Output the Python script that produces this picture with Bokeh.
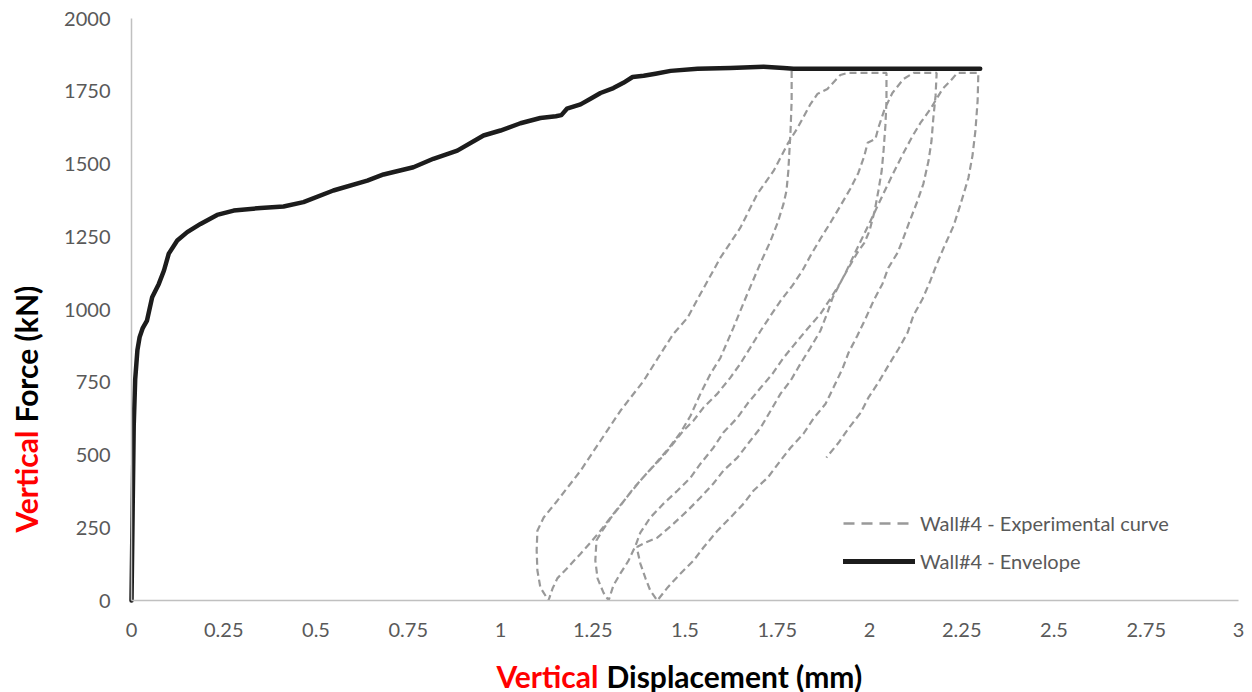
import math
from bokeh.plotting import figure
from bokeh.models import Range1d, FixedTicker, Legend, LegendItem
from bokeh.core.properties import value
from bokeh.embed import file_html
from bokeh.resources import INLINE

# ---------------- data ----------------
x_ticks = [0, 0.25, 0.5, 0.75, 1, 1.25, 1.5, 1.75, 2, 2.25, 2.5, 2.75, 3]
x_tick_labels = ["0", "0.25", "0.5", "0.75", "1", "1.25", "1.5", "1.75", "2", "2.25", "2.5", "2.75", "3"]
y_ticks = [0, 250, 500, 750, 1000, 1250, 1500, 1750, 2000]
y_tick_labels = ["0", "250", "500", "750", "1000", "1250", "1500", "1750", "2000"]

env_x = [0, 0.003, 0.006, 0.010, 0.016, 0.022, 0.030, 0.042, 0.056, 0.074, 0.088, 0.101,
         0.124, 0.151, 0.187, 0.232, 0.277, 0.35, 0.412, 0.466, 0.547, 0.639, 0.683, 0.764,
         0.818, 0.883, 0.954, 1.0, 1.054, 1.108, 1.15, 1.165, 1.18, 1.217, 1.244, 1.271,
         1.306, 1.333, 1.358, 1.388, 1.42, 1.461, 1.534, 1.623, 1.713, 1.767, 1.794, 1.867, 2.30]
env_y = [0, 300, 600, 760, 860, 905, 935, 962, 1042, 1088, 1134, 1192,
         1237, 1266, 1294, 1325, 1340, 1349, 1354, 1369, 1409, 1443, 1464, 1489,
         1518, 1546, 1598, 1615, 1640, 1658, 1664, 1668, 1690, 1705, 1724, 1744,
         1761, 1779, 1799, 1803, 1810, 1820, 1827, 1830, 1834, 1830, 1827, 1827, 1827]

exp_x = [
    # unloading 1
    1.789, 1.789, 1.786, 1.783, 1.780, 1.775, 1.767, 1.751, 1.732, 1.705, 1.669, 1.631,
    1.596, 1.569, 1.542, 1.515, 1.488, 1.455, 1.420, 1.379, 1.339, 1.298, 1.271, 1.244,
    1.217, 1.182, 1.154, 1.141, 1.130,
    # reloading 1
    1.108, 1.100, 1.098, 1.100, 1.117, 1.154, 1.217, 1.271, 1.325, 1.388, 1.434, 1.469,
    1.507, 1.542, 1.596, 1.650, 1.696, 1.740, 1.778, 1.805, 1.840, 1.859, 1.886, 1.921,
    1.940, 2.046,
    # unloading 2
    2.046, 2.043, 2.038, 2.033, 2.024, 2.014, 2.000, 1.986, 1.967, 1.943, 1.921, 1.894,
    1.867, 1.832, 1.794, 1.767, 1.737, 1.705, 1.669, 1.642, 1.604, 1.577, 1.542, 1.515,
    1.480, 1.442, 1.406, 1.379, 1.366, 1.347, 1.325, 1.306, 1.293,
    # reloading 2
    1.279, 1.263, 1.257, 1.260, 1.276, 1.298, 1.325, 1.360, 1.398, 1.442, 1.496, 1.523,
    1.550, 1.588, 1.623, 1.650, 1.677, 1.705, 1.732, 1.759, 1.791, 1.818, 1.840, 1.867,
    1.894, 1.921, 1.948, 1.970, 1.986, 1.995, 2.016, 2.024, 2.041, 2.062, 2.092, 2.119,
    2.182,
    # unloading 3
    2.179, 2.173, 2.168, 2.160, 2.146, 2.130, 2.106, 2.089, 2.076, 2.051, 2.035, 2.011,
    1.989, 1.967, 1.943, 1.927, 1.902, 1.881, 1.848, 1.821, 1.786, 1.759, 1.724, 1.686,
    1.659, 1.623, 1.588, 1.550, 1.523, 1.488, 1.453, 1.425,
    # reloading 3
    1.406, 1.393, 1.379, 1.371, 1.371, 1.393, 1.425, 1.469, 1.507, 1.542, 1.577, 1.604,
    1.642, 1.677, 1.705, 1.732, 1.759, 1.786, 1.813, 1.840, 1.867, 1.886, 1.900, 1.935,
    1.970, 2.003, 2.035, 2.065, 2.092, 2.117, 2.138, 2.165, 2.198, 2.219, 2.238, 2.295,
    # unloading 4
    2.293, 2.287, 2.279, 2.268, 2.247, 2.228, 2.201, 2.184, 2.165, 2.144, 2.119, 2.103,
    2.079, 2.051, 2.024, 1.997, 1.976, 1.943, 1.916, 1.883,
]
exp_y = [
    # unloading 1
    1820, 1717, 1614, 1545, 1476, 1408, 1363, 1298, 1236, 1161, 1054, 937,
    834, 779, 711, 635, 577, 522, 470, 412, 350, 285, 240, 199,
    161, 113, 76, 41, 0,
    # reloading 1
    45, 103, 172, 240, 285, 343, 446, 549, 652, 755, 848, 917,
    972, 1054, 1178, 1281, 1397, 1476, 1569, 1624, 1706, 1741, 1758, 1806,
    1813, 1813,
    # unloading 2
    1717, 1631, 1545, 1476, 1408, 1339, 1270, 1229, 1195, 1143, 1092, 1037,
    985, 934, 876, 834, 779, 731, 676, 628, 577, 525, 470, 422,
    378, 333, 285, 233, 189, 137, 93, 52, 0,
    # reloading 2
    27, 76, 137, 206, 240, 282, 326, 385, 439, 498, 584, 618,
    663, 711, 766, 814, 869, 927, 979, 1030, 1082, 1133, 1185, 1243,
    1298, 1356, 1415, 1470, 1528, 1573, 1586, 1624, 1689, 1744, 1792, 1813,
    1813,
    # unloading 3
    1734, 1658, 1579, 1511, 1432, 1373, 1294, 1236, 1195, 1143, 1088, 1030,
    968, 910, 851, 797, 731, 676, 625, 573, 525, 481, 422, 378,
    333, 285, 240, 182, 137, 93, 45, 0,
    # reloading 3
    34, 76, 127, 172, 185, 199, 216, 264, 309, 354, 402, 446,
    491, 549, 594, 652, 711, 755, 814, 869, 927, 989, 1040, 1126,
    1219, 1305, 1391, 1470, 1538, 1597, 1641, 1689, 1758, 1785, 1813, 1813,
    # unloading 4
    1717, 1614, 1528, 1452, 1363, 1288, 1212, 1161, 1099, 1037, 979, 920,
    865, 807, 749, 697, 645, 591, 542, 491,
]

series_names = ["Wall#4 - Experimental curve", "Wall#4 - Envelope"]
title_x = ["Vertical", "Displacement (mm)"]
title_y = ["Vertical", "Force (kN)"]

# ---------------- layout (frame covers the canvas; axes are pinned at x=0 / y=0) ----------------
W, H = 1252, 692
X0_PX, X3_PX = 131, 1238        # pixel columns of x=0 and x=3
Y0_PX, Y2000_PX = 600, 18       # pixel rows of y=0 and y=2000
sx = (X3_PX - X0_PX) / 3.0
sy = (Y0_PX - Y2000_PX) / 2000.0
x_range = Range1d(-X0_PX / sx, 3 + (W - X3_PX) / sx)
y_range = Range1d(-(H - Y0_PX) / sy, 2000 + Y2000_PX / sy)

FONT = "Lato"
GRAY_TXT = "#595959"
EXP_COLOR = "#999999"
ENV_COLOR = "#1c1c1c"

p = figure(width=W, height=H, output_backend="svg", toolbar_location=None,
           x_range=x_range, y_range=y_range, title=None,
           min_border_left=0, min_border_right=0, min_border_top=0, min_border_bottom=0)
p.outline_line_color = None
p.xgrid.visible = False
p.ygrid.visible = False
p.background_fill_color = "white"
p.border_fill_color = "white"

p.xaxis.fixed_location = 0
p.yaxis.fixed_location = 0
p.xaxis.bounds = (0, 3)
p.yaxis.bounds = (0, 2000)
p.xaxis.ticker = FixedTicker(ticks=x_ticks)
p.xaxis.major_label_overrides = dict(zip(x_ticks, x_tick_labels))
p.yaxis.ticker = FixedTicker(ticks=y_ticks)
p.yaxis.major_label_overrides = dict(zip(y_ticks, y_tick_labels))
for ax in (p.xaxis, p.yaxis):
    ax.axis_line_color = "#c0c0c0"
    ax.axis_line_width = 1.5
    ax.major_tick_line_color = None
    ax.minor_tick_line_color = None
    ax.major_tick_out = 0
    ax.major_tick_in = 0
    ax.minor_tick_out = 0
    ax.minor_tick_in = 0
    ax.major_label_text_font = FONT
    ax.major_label_text_font_size = "20px"
    ax.major_label_text_color = GRAY_TXT
p.xaxis.major_label_standoff = 22
p.yaxis.major_label_standoff = 21

p.line(exp_x, exp_y, line_color=EXP_COLOR, line_width=2.2, line_dash="7 4")
p.line(env_x, env_y, line_color=ENV_COLOR, line_width=4.5, line_join="round", line_cap="round")

# legend samples (placed outside the shown ranges, only their legend glyphs show)
leg_exp = p.line([-5, -4.9], [-5000, -5000], line_color=EXP_COLOR, line_width=2.5, line_dash="11 7")
leg_env = p.line([-5, -4.9], [-5000, -5000], line_color=ENV_COLOR, line_width=5, line_cap="round")
legend = Legend(items=[LegendItem(label=series_names[0], renderers=[leg_exp]),
                       LegendItem(label=series_names[1], renderers=[leg_env])],
                location=(843, 119), glyph_width=72, glyph_height=24, label_height=24,
                label_standoff=5, spacing=14, padding=0, margin=0,
                border_line_color=None, background_fill_alpha=0,
                label_text_font=FONT, label_text_font_size="20px", label_text_color=GRAY_TXT)
p.add_layout(legend)

# axis titles (two colours), as text glyphs
tfont = dict(text_font=value(FONT), text_font_style="bold", text_font_size="30px",
             text_baseline="middle")
xt_y = -(675 - Y0_PX) / sy
p.text(x=[(598 - X0_PX) / sx], y=[xt_y], text=[title_x[0]], text_align="right",
       text_color="#ff0000", **tfont)
p.text(x=[(606 - X0_PX) / sx], y=[xt_y], text=[title_x[1]], text_align="left",
       text_color="black", **tfont)
yt_x = (25 - X0_PX) / sx
p.text(x=[yt_x], y=[(Y0_PX - 430) / sy], text=[title_y[0]], angle=math.pi / 2,
       text_align="right", text_color="#ff0000", **tfont)
p.text(x=[yt_x], y=[(Y0_PX - 422) / sy], text=[title_y[1]], angle=math.pi / 2,
       text_align="left", text_color="black", **tfont)

open("out.html", "w").write(file_html(p, INLINE))
